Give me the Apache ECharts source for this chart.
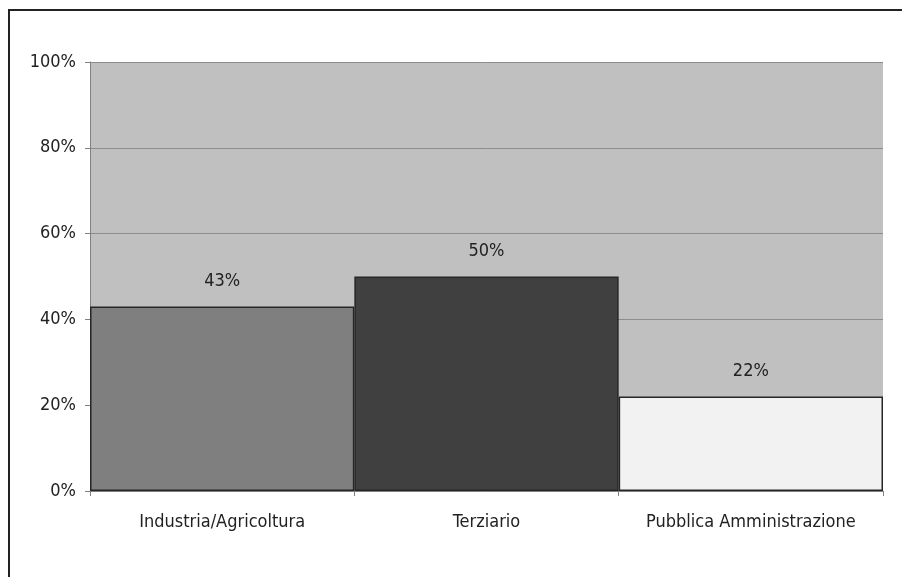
<!DOCTYPE html>
<html>
<head>
<meta charset="utf-8">
<script src="https://cdn.jsdelivr.net/npm/echarts@6/dist/echarts.min.js"></script>
<style>
  html, body { margin: 0; padding: 0; background: #fff; }
  #frame { position: absolute; left: 8px; top: 9px; width: 900px; height: 575px;
           border-top: 2px solid #222; border-left: 2px solid #222; box-sizing: border-box; }
  #chart { position: absolute; left: 0; top: 0; width: 902px; height: 577px; }
</style>
</head>
<body>
<div id="frame"></div>
<div id="chart"></div>
<script>
// Sector shares
const categories = ['Industria/Agricoltura', 'Terziario', 'Pubblica Amministrazione'];
const shares = [43, 50, 22];
const barColors = ['#7f7f7f', '#404040', '#f2f2f2'];
const yTicks = [0, 20, 40, 60, 80, 100];

const FONT = '"DejaVu Sans Condensed", "Liberation Sans Narrow", Arial, sans-serif';

const chart = echarts.init(document.getElementById('chart'), null, { renderer: 'canvas' });
chart.setOption({
  animation: false,
  grid: { left: 90, right: 19, top: 62, bottom: 86, containLabel: false,
          show: true, backgroundColor: '#c0c0c0', borderWidth: 0 },
  xAxis: {
    type: 'category',
    data: categories,
    axisLine: { show: true, lineStyle: { color: '#808080', width: 1 } },
    axisTick: { show: true, alignWithLabel: false, interval: 0, length: 5, lineStyle: { color: '#808080' } },
    axisLabel: { color: '#222', fontFamily: FONT, fontSize: 18, margin: 22,
                 interval: 0, hideOverlap: false }
  },
  yAxis: {
    type: 'value',
    min: yTicks[0], max: yTicks[yTicks.length - 1], interval: 20,
    axisLine: { show: true, lineStyle: { color: '#808080', width: 1 } },
    axisTick: { show: true, length: 5, lineStyle: { color: '#808080' } },
    axisLabel: { color: '#222', fontFamily: FONT, fontSize: 18, margin: 14,
                 formatter: v => v + '%' },
    splitLine: { show: true, lineStyle: { color: '#8c8c8c', width: 1 } }
  },
  series: [{
    type: 'bar',
    barWidth: '100%',
    barCategoryGap: 0,
    data: shares.map((v, i) => ({
      value: v,
      itemStyle: { color: barColors[i], borderColor: '#262626', borderWidth: 1.5 }
    })),
    label: {
      show: true, position: 'top', distance: 16,
      color: '#222', fontFamily: FONT, fontSize: 18,
      formatter: p => p.value + '%'
    }
  }]
});
</script>
</body>
</html>
